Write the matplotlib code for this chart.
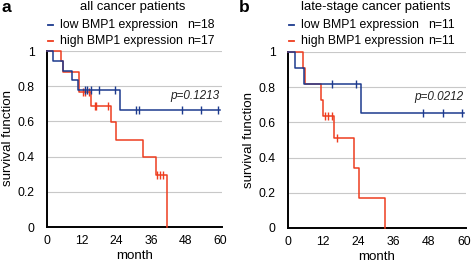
import matplotlib
matplotlib.use("Agg")
import matplotlib.pyplot as plt
from matplotlib.lines import Line2D

plt.rcParams['font.family'] = ['Liberation Sans', 'DejaVu Sans']

# ---- data ----
xticks = [0, 12, 24, 36, 48, 60]
yticks = [0, 0.2, 0.4, 0.6, 0.8, 1]
ytick_labels = ['0', '0.2', '0.4', '0.6', '0.8', '1']

# panel a: all cancer patients
a_low_t = [0, 2.2, 5.6, 8.5, 10.8, 25.2, 60]
a_low_s = [1, 0.944, 0.889, 0.833, 0.778, 0.667, 0.667]
a_low_cens_t = [13.1, 14.0, 15.2, 17.9, 23.4, 30.8, 31.9, 46.6, 53.2, 59.2]
a_low_cens_s = [0.778, 0.778, 0.778, 0.778, 0.778, 0.667, 0.667, 0.667, 0.667, 0.667]
a_high_t = [0, 5.0, 5.7, 11.0, 15.4, 22.3, 24.0, 33.2, 37.6, 41.6]
a_high_s = [1, 0.941, 0.882, 0.765, 0.689, 0.597, 0.497, 0.398, 0.298, 0]
a_high_cens_t = [12.4, 13.3, 14.6, 16.6, 17.1, 21.1, 38.2, 39.2, 40.2]
a_high_cens_s = [0.765, 0.765, 0.765, 0.689, 0.689, 0.689, 0.298, 0.298, 0.298]

# panel b: late-stage cancer patients
b_low_t = [0, 2.3, 5.6, 24.9, 60]
b_low_s = [1, 0.909, 0.818, 0.655, 0.655]
b_low_cens_t = [15.0, 23.3, 46.1, 52.7, 59.2]
b_low_cens_s = [0.818, 0.818, 0.655, 0.655, 0.655]
b_high_t = [0, 5.0, 5.8, 11.3, 11.8, 15.8, 22.3, 24.2, 33.1]
b_high_s = [1, 0.909, 0.818, 0.727, 0.636, 0.509, 0.339, 0.170, 0]
b_high_cens_t = [12.6, 13.7, 14.9, 16.6]
b_high_cens_s = [0.636, 0.636, 0.636, 0.509]

titles = ['all cancer patients', 'late-stage cancer patients']
panel_letters = ['a', 'b']
n_low = ['n=18', 'n=11']
n_high = ['n=17', 'n=11']
pvals = ['p=0.1213', 'p=0.0212']

BLUE = '#1c3a8e'
RED = '#ee3d1f'
W, H = 472, 262
FS_TITLE = 9.4
FS_LEG = 8.8
FS_TICK = 8.8
FS_LABEL = 9.6

fig = plt.figure(figsize=(W / 100, H / 100), dpi=100)

def fx(px):
    return px / W

def fy(py):
    return 1 - py / H

ax_a = fig.add_axes([fx(47), fy(227), fx(222 - 47), (227 - 51) / H])
ax_b = fig.add_axes([fx(288), fy(228), fx(466 - 288), (228 - 52) / H])

panels = [
    (ax_a, a_low_t, a_low_s, a_low_cens_t, a_low_cens_s,
     a_high_t, a_high_s, a_high_cens_t, a_high_cens_s),
    (ax_b, b_low_t, b_low_s, b_low_cens_t, b_low_cens_s,
     b_high_t, b_high_s, b_high_cens_t, b_high_cens_s),
]

for i, (ax, lt, ls, lct, lcs, ht, hs, hct, hcs) in enumerate(panels):
    ax.set_xlim(0, 60.6)
    ax.set_ylim(0, 1)
    for y in yticks[1:]:
        ax.axhline(y, color='#c8c8c8', lw=0.8, zorder=0)
    ax.step(ht, hs, where='post', color=RED, lw=1.1, clip_on=False, zorder=3)
    ax.plot(hct, hcs, ls='none', marker='|', ms=6, mew=1.0, color=RED, clip_on=False, zorder=3)
    ax.step(lt, ls, where='post', color=BLUE, lw=1.1, clip_on=False, zorder=4)
    ax.plot(lct, lcs, ls='none', marker='|', ms=5.5, mew=1.0, color=BLUE, clip_on=False, zorder=4)
    for s in ['top', 'right']:
        ax.spines[s].set_visible(False)
    for s in ['left', 'bottom']:
        ax.spines[s].set_linewidth(1.4)
        ax.spines[s].set_color('black')
    ax.set_xticks(xticks)
    ax.set_yticks(yticks)
    ax.set_yticklabels(ytick_labels)
    ax.tick_params(length=0, labelsize=FS_TICK, pad=6)
    ax.tick_params(axis='y', pad=9)
    ax.set_xlabel('month', fontsize=FS_LABEL, labelpad=2)
    ax.text(0.985, 0.745, pvals[i], transform=ax.transAxes, ha='right', va='center',
            fontsize=8.5, style='italic', color='#222222')

# y labels, titles and legends
ylab_x = [8, 248.5]
ylab_y = [138.5, 140.5]
title_x = [133, 376]
dash_x = [50.5, 291.5]
text_x = [60, 301]
n_x = [187, 428]
letter_x = [2, 239]
for i in range(2):
    fig.text(fx(ylab_x[i]), fy(ylab_y[i]), 'survival function', rotation=90,
             ha='center', va='center', fontsize=FS_LABEL)
    fig.text(fx(title_x[i]), fy(7), titles[i], ha='center', va='center', fontsize=FS_TITLE)
    fig.text(fx(letter_x[i]), fy(8), panel_letters[i], ha='left', va='center',
             fontsize=12.5, fontweight='bold')
    for yy, col, lab, nn in [(25, BLUE, 'low BMP1 expression', n_low[i]),
                             (41, RED, 'high BMP1 expression', n_high[i])]:
        fig.add_artist(Line2D([fx(dash_x[i] - 2.5), fx(dash_x[i] + 2.5)], [fy(yy), fy(yy)],
                              color=col, lw=1.3, transform=fig.transFigure))
        fig.text(fx(text_x[i]), fy(yy), lab, ha='left', va='center', fontsize=FS_LEG)
        fig.text(fx(n_x[i]), fy(yy), nn, ha='left', va='center', fontsize=FS_LEG)

fig.savefig('out.png', dpi=100)
